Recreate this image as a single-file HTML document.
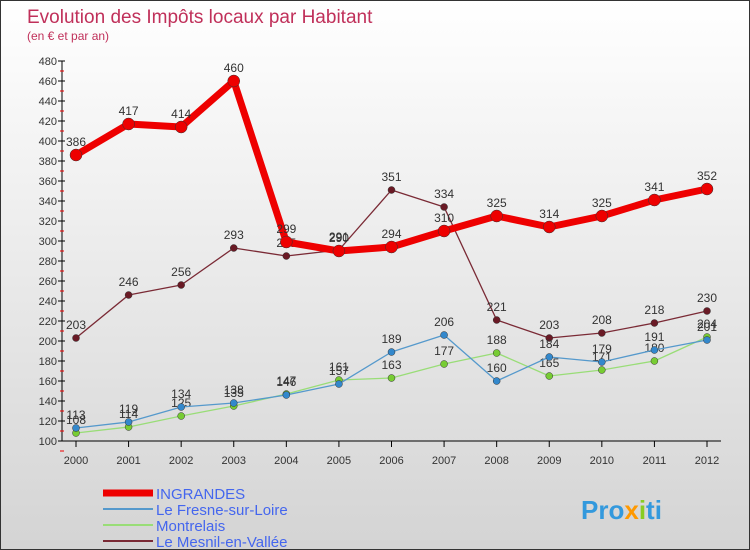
<!DOCTYPE html>
<html><head><meta charset="utf-8"><style>
body{margin:0;}
#c{width:750px;height:550px;position:relative;overflow:hidden;box-sizing:border-box;border:1px solid #333;background:linear-gradient(#ffffff,#d4d4d4);font-family:"Liberation Sans",sans-serif;}
</style></head><body>
<div id="c">
<svg id="s" width="750" height="550" style="position:absolute;left:0;top:0">
<text x="26" y="22" font-size="19" fill="#c0305a">Evolution des Impôts locaux par Habitant</text>
<text x="26" y="39" font-size="12" fill="#c0305a">(en € et par an)</text>
<text x="580" y="518" font-size="26" font-weight="bold" fill="#3399dd">Pro<tspan fill="#ff9900">x</tspan><tspan fill="#88cc22">i</tspan>ti</text>
</svg>
</div>
<script>
const years=[2000,2001,2002,2003,2004,2005,2006,2007,2008,2009,2010,2011,2012];
const yTicks=[100,120,140,160,180,200,220,240,260,280,300,320,340,360,380,400,420,440,460,480];
const ingrandes=[386,417,414,460,299,290,294,310,325,314,325,341,352];
const fresne=[113,119,134,138,146,157,189,206,160,184,179,191,201];
const montrelais=[108,114,125,135,147,161,163,177,188,165,171,180,204];
const mesnil=[203,246,256,293,285,291,351,334,221,203,208,218,230];
const seriesNames=["INGRANDES","Le Fresne-sur-Loire","Montrelais","Le Mesnil-en-Vallée"];
const NS="http://www.w3.org/2000/svg";
const svg=document.getElementById('s');
const xs=i=>75+i*(706-75)/(years.length-1);
const ys=v=>440-(v-100)*380/380;
function mk(t,a,p){const e=document.createElementNS(NS,t);for(const k in a)e.setAttribute(k,a[k]);(p||svg).appendChild(e);return e;}
// axes
let ax=mk('line',{x1:61,y1:60,x2:61,y2:440,stroke:'#000'});


let xa=mk('line',{x1:61,y1:440,x2:720,y2:440,stroke:'#000'});


yTicks.forEach(v=>{
  mk('line',{x1:57,y1:ys(v),x2:64,y2:ys(v),stroke:'#000'});
  mk('line',{x1:59,y1:ys(v)+10,x2:63,y2:ys(v)+10,stroke:'#e00'});
  const t=mk('text',{x:56,y:ys(v)+4,'font-size':11,'text-anchor':'end',fill:'#333'});
  t.textContent=v;
  
  
});
years.forEach((y,i)=>{
  mk('line',{x1:xs(i),y1:440,x2:xs(i),y2:446,stroke:'#000'});
  const t=mk('text',{x:xs(i),y:463,'font-size':11,'text-anchor':'middle',fill:'#333'});
  t.textContent=y;
  
  
});
function series(data,color,w,r,name,dot){
  const g=mk('g',{});
  
  
  mk('polyline',{points:data.map((v,i)=>xs(i)+','+ys(v)).join(' '),fill:'none',stroke:color,'stroke-width':w,'stroke-linejoin':'round'},g);
  data.forEach((v,i)=>{
    const c=mk('circle',{cx:xs(i),cy:ys(v),r:r,fill:dot,stroke:'#333','stroke-width':0.5},g);
    
    
    const t=mk('text',{x:xs(i),y:ys(v)-9,'font-size':12,'text-anchor':'middle',fill:'#333'},g);
    t.textContent=v;
    
    
  });
}
series(mesnil,'#7a2a35',1.3,3.5,'series-mesnil','#6a1a25');
series(montrelais,'#99dd77',1.3,3.5,'series-montrelais','#77cc33');
series(fresne,'#5599cc',1.3,3.5,'series-fresne','#3388cc');
series(ingrandes,'#ee0000',7,6,'series-ingrandes','#ee0000');
const cols=['#ee0000','#5599cc','#99dd77','#7a2a35'],wids=[7,2,2,2];
seriesNames.forEach((n,i)=>{
  const y=492+i*16;
  const l=mk('line',{x1:102,y1:y,x2:152,y2:y,stroke:cols[i],'stroke-width':wids[i]});
  
  
  const t=mk('text',{x:155,y:y+6,'font-size':15,fill:i==0?'#4466ee':'#4466ee'});
  t.textContent=n;
  
  
});
</script>
</body></html>
